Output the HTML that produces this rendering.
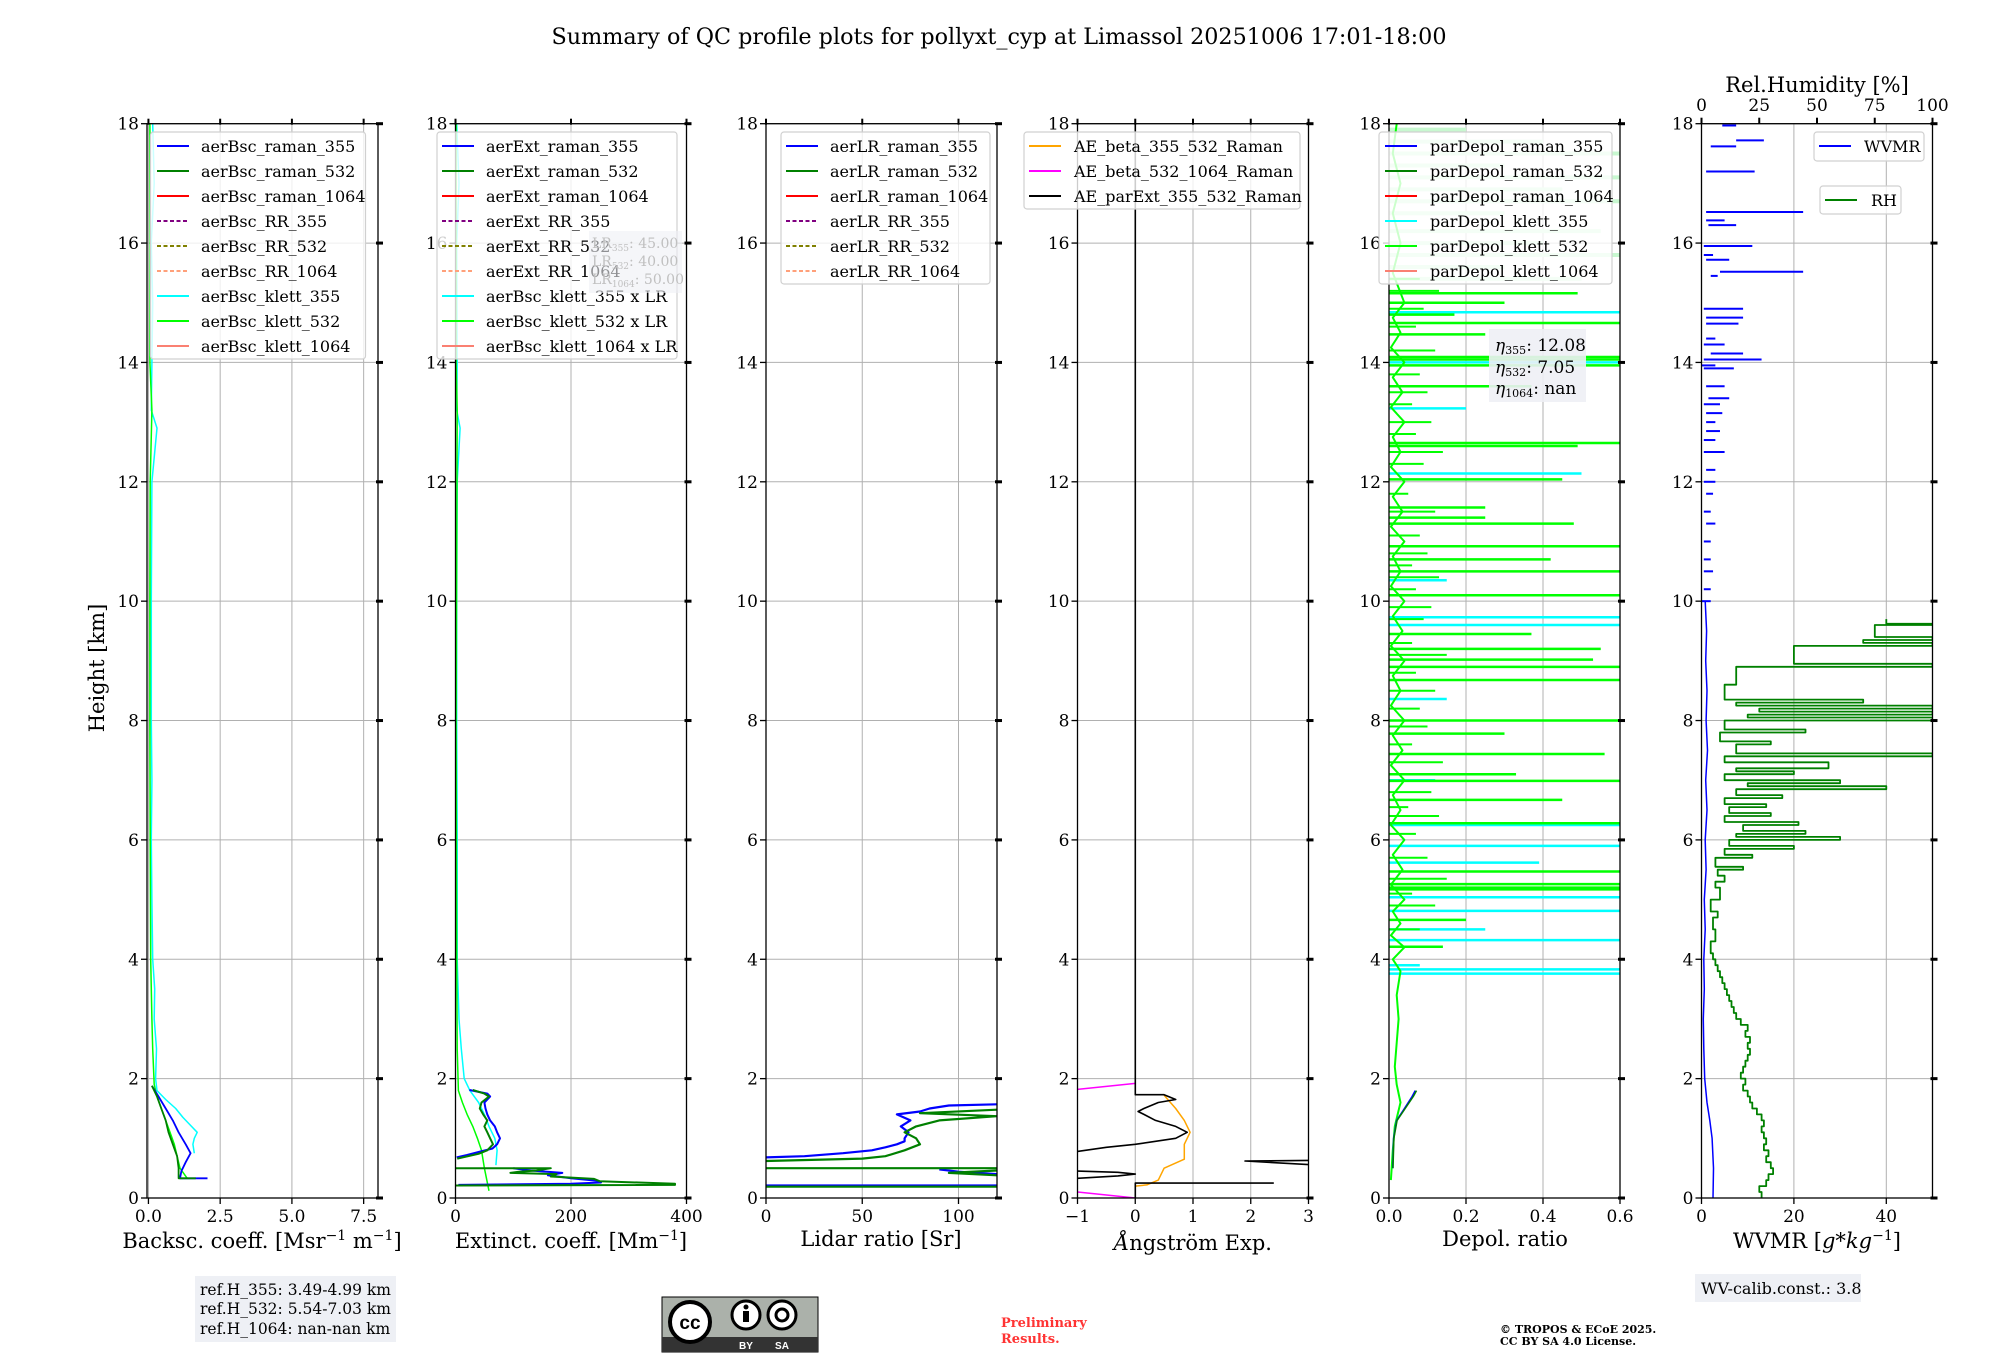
<!DOCTYPE html>
<html><head><meta charset="utf-8"><style>
html,body{margin:0;padding:0;background:#fff}
svg{display:block;font-family:"DejaVu Serif","Liberation Serif",serif}
</style></head><body>
<svg id="fig" width="2000" height="1360" viewBox="0 0 2000 1360" xmlns="http://www.w3.org/2000/svg">
<rect width="2000" height="1360" fill="#fff"/>
<text x="999" y="44" font-size="22" text-anchor="middle" textLength="895" lengthAdjust="spacingAndGlyphs">Summary of QC profile plots for pollyxt_cyp at Limassol 20251006 17:01-18:00</text>
<text transform="translate(104,668) rotate(-90)" font-size="21" text-anchor="middle">Height [km]</text>
<g id="plots"></g>
<g>
<rect x="195" y="1276" width="201" height="66" fill="#eef0f5"/>
<text x="200" y="1295" font-size="15.5">ref.H_355: 3.49-4.99 km</text>
<text x="200" y="1314" font-size="15.5">ref.H_532: 5.54-7.03 km</text>
<text x="200" y="1334" font-size="15.5">ref.H_1064: nan-nan km</text>
</g>
<g>
<rect x="662" y="1297" width="156" height="55" fill="#abb1aa" stroke="#000" stroke-width="1"/>
<rect x="662" y="1337" width="156" height="15" fill="#333"/>
<circle cx="690" cy="1322" r="20" fill="#fff" stroke="#000" stroke-width="4"/>
<text x="690" y="1329" font-size="19" font-weight="bold" text-anchor="middle" font-family="Liberation Sans, sans-serif">cc</text>
<circle cx="746" cy="1315" r="14" fill="#fff" stroke="#000" stroke-width="3"/>
<circle cx="746" cy="1307" r="2.5" fill="#000"/>
<rect x="743" y="1311" width="6" height="11" fill="#000"/>
<circle cx="782" cy="1315" r="14" fill="#fff" stroke="#000" stroke-width="3"/>
<circle cx="782" cy="1315" r="6" fill="none" stroke="#000" stroke-width="3"/>
<text x="746" y="1349" font-size="10" fill="#fff" text-anchor="middle" font-family="Liberation Sans, sans-serif" font-weight="bold">BY</text>
<text x="782" y="1349" font-size="10" fill="#fff" text-anchor="middle" font-family="Liberation Sans, sans-serif" font-weight="bold">SA</text>
</g>
<text x="1001" y="1327" font-size="13" font-weight="bold" fill="#ff3333">Preliminary</text>
<text x="1001" y="1343" font-size="13" font-weight="bold" fill="#ff3333">Results.</text>
<text x="1500" y="1333" font-size="11" font-weight="bold">© TROPOS &amp; ECoE 2025.</text>
<text x="1500" y="1345" font-size="11" font-weight="bold">CC BY SA 4.0 License.</text>
<g>
<rect x="1695" y="1274" width="166" height="28" fill="#eef0f5"/>
<text x="1701" y="1294" font-size="16">WV-calib.const.: 3.8</text>
</g>
</svg>
<script>
// ---------- DATA ----------
const yTicks = [0,2,4,6,8,10,12,14,16,18];
const bscRaman355 = [[0.33,2.06],[0.33,1.1],[0.45,1.15],[0.6,1.3],[0.75,1.47],[0.9,1.3],[1.1,1.05],[1.3,0.85],[1.5,0.6],[1.7,0.35],[1.88,0.12]];
const bscRaman532 = [[0.33,1.65],[0.33,1.05],[0.5,1.05],[0.7,1.0],[0.9,0.85],[1.1,0.7],[1.3,0.6],[1.5,0.45],[1.7,0.3],[1.88,0.12]];
const bscKlett355 = [[0.75,1.6],[0.9,1.55],[1.0,1.6],[1.1,1.7],[1.2,1.5],[1.35,1.2],[1.5,0.95],[1.65,0.6],[1.8,0.3],[2.0,0.25],[2.5,0.28],[3.0,0.2],[3.5,0.22],[4.0,0.15],[5,0.12],[6,0.1],[7,0.12],[8,0.1],[10,0.1],[12,0.12],[12.9,0.3],[13.2,0.1],[14,0.12],[15,0.15],[16,0.1],[17,0.2],[18,0.15]];
const bscKlett532 = [[0.33,1.35],[0.5,1.1],[0.7,1.0],[0.9,0.9],[1.1,0.75],[1.3,0.6],[1.5,0.45],[1.7,0.3],[1.9,0.2],[2.5,0.15],[3,0.12],[4,0.08],[6,0.06],[8,0.05],[10,0.05],[12,0.06],[13.2,0.12],[14,0.05],[16,0.06],[18,0.05]];
const extRaman355 = [[1.81,24],[1.75,55],[1.7,60],[1.6,50],[1.5,52],[1.4,55],[1.3,60],[1.2,68],[1.1,72],[1.0,77],[0.9,72],[0.83,64],[0.77,40],[0.72,20],[0.68,2],null,[0.5,100],[0.46,130],[0.42,185],[0.38,160],[0.33,200],[0.29,245],[0.26,252],[0.24,200],[0.22,5]];
const extRaman532 = [[1.81,30],[1.75,50],[1.7,58],[1.6,45],[1.5,42],[1.4,48],[1.3,55],[1.2,50],[1.1,55],[1.0,60],[0.9,65],[0.8,55],[0.74,40],[0.66,3],null,[0.5,0],[0.5,165],[0.46,140],[0.44,110],[0.42,95],[0.4,175],[0.36,165],[0.32,240],[0.28,250],[0.24,380],[0.22,380],[0.21,0]];
const extKlett355 = [[0.55,70],[0.8,72],[1.0,68],[1.2,58],[1.4,50],[1.6,40],[1.8,25],[2.0,15],[2.5,10],[3,6],[4,3],[6,3],[8,2],[10,2],[12,3],[12.9,8],[13.2,2],[14,3],[16,2],[17,6],[18,2]];
const extKlett532 = [[0.12,58],[0.5,50],[0.8,45],[1.0,38],[1.2,30],[1.4,20],[1.6,12],[1.8,5],[2.5,3],[4,2],[8,1],[13.2,3],[14,1],[18,1]];
const lrRaman355 = [[0.68,0],[0.7,20],[0.75,40],[0.8,55],[0.85,62],[0.9,68],[0.95,72],[1.0,72],[1.1,74],[1.2,70],[1.3,75],[1.4,68],[1.45,80],[1.5,85],[1.55,95],[1.57,120],null,[0.21,0],[0.21,120],null,[0.4,120],[0.44,100],[0.48,90]];
const lrRaman532 = [[0.62,0],[0.66,50],[0.7,62],[0.8,72],[0.9,80],[1.0,78],[1.1,72],[1.2,78],[1.3,90],[1.37,120],[1.42,80],[1.48,120],null,[0.5,0],[0.5,120],null,[0.19,0],[0.19,120],null,[0.38,120],[0.42,95],[0.46,120]];
const aeBeta355532 = [[0.2,0],[0.22,0.2],[0.3,0.4],[0.5,0.5],[0.65,0.85],[0.9,0.85],[1.1,0.95],[1.3,0.85],[1.5,0.7],[1.72,0.5]];
const aeBeta5321064 = [[0,0],[0.1,-1],null,[1.82,-1],[1.92,0]];
const aeParExt = [[18,0],[1.73,0],[1.73,0.5],[1.65,0.7],[1.6,0.4],[1.5,0.15],[1.45,0.05],[1.4,0.15],[1.3,0.35],[1.2,0.7],[1.1,0.9],[1.0,0.7],[0.9,0],[0.85,-0.5],[0.78,-1],null,[0.45,-1],[0.43,-0.3],[0.4,0],[0.37,-0.3],[0.33,-1],null,[0,0],[0.25,0],[0.25,2.4],null,[0.63,3],[0.62,1.9],[0.56,3]];
const depolRaman = [[0.5,0.01],[1.0,0.012],[1.3,0.02],[1.5,0.04],[1.7,0.06],[1.8,0.068]];
const depolKlett532Base = [[0.3,0.005],[0.8,0.01],[1.2,0.015],[1.6,0.03],[1.9,0.02],[2.2,0.015],[2.6,0.02],[3.0,0.025],[3.4,0.02],[3.8,0.03],[4.0,0.01],[4.2,0.04],[4.4,0.005],[4.6,0.03],[4.8,0.01],[5.0,0.04],[5.25,0.005],[5.5,0.035],[5.75,0.01],[6.0,0.04],[6.25,0.005],[6.5,0.03],[6.75,0.01],[7,0.04],[7.25,0.005],[7.5,0.035],[7.75,0.01],[8,0.04],[8.25,0.005],[8.5,0.03],[8.75,0.01],[9,0.04],[9.25,0.005],[9.5,0.035],[9.75,0.01],[10,0.04],[10.25,0.005],[10.5,0.03],[10.75,0.01],[11,0.04],[11.25,0.005],[11.5,0.035],[11.75,0.01],[12,0.04],[12.25,0.005],[12.5,0.03],[12.75,0.01],[13,0.04],[13.25,0.005],[13.5,0.035],[13.75,0.01],[14,0.04],[14.25,0.005],[14.5,0.03],[14.75,0.01],[15,0.04],[15.5,0.01],[16,0.03],[16.5,0.01],[17,0.03],[17.5,0.01],[18,0.02]];
const depolShortH = [4.5,4.9,5.1,5.35,5.7,6.1,6.4,6.55,6.8,7.1,7.3,7.6,7.9,8.2,8.5,8.8,9.1,9.3,9.7,9.9,10.2,10.4,10.6,10.8,11.1,11.5,11.8,12.3,12.5,12.8,13.0,13.3,13.5,13.8,14.2,14.6,14.9,15.2,15.4];
const depolShortV = [0.08,0.12,0.06,0.15,0.1,0.07,0.13,0.05,0.11,0.09,0.14,0.06,0.1,0.08,0.12,0.07,0.15,0.06,0.09,0.11,0.07,0.13,0.06,0.1,0.08,0.12,0.05,0.09,0.14,0.07,0.11,0.06,0.1,0.08,0.12,0.07,0.09,0.13,0.08];
const depolLimeSpikes = [[15.16,0.49],[14.66,0.6],[14.47,0.25],[14.09,0.6],[13.6,0.37],[12.65,0.6],[12.6,0.49],[12.04,0.45],[11.57,0.25],[11.4,0.25],[11.3,0.48],[10.92,0.6],[10.7,0.42],[10.5,0.6],[10.1,0.6],[9.45,0.37],[9.2,0.55],[9.02,0.53],[8.9,0.6],[8.68,0.6],[8.0,0.6],[7.78,0.3],[7.44,0.56],[7.1,0.33],[6.99,0.6],[6.67,0.45],[6.28,0.6],[5.47,0.6],[5.26,0.6],[5.2,0.6],[5.17,0.6],[4.66,0.2],[4.21,0.14],[14.05,0.6],[13.95,0.6],[15.0,0.3],[14.8,0.17]];
const depolCyanSpikes = [[14.84,0.6],[14.0,0.6],[13.23,0.2],[12.14,0.5],[10.35,0.15],[9.73,0.6],[9.6,0.6],[8.36,0.15],[6.25,0.6],[5.9,0.6],[5.62,0.39],[5.04,0.6],[4.81,0.6],[4.32,0.6],[3.83,0.6],[3.76,0.6],[4.5,0.25],[3.9,0.08],[7.0,0.12]];
const depolPaleSpikes = [[15.4,0.5],[15.6,0.3],[15.8,0.6],[16.0,0.4],[16.2,0.55],[16.5,0.3],[16.7,0.6],[16.9,0.45],[17.1,0.6],[17.3,0.3],[17.5,0.6],[17.7,0.4],[17.9,0.2]];
const wvmrLow = [[0,2.5],[0.5,2.6],[1.0,2.3],[1.3,1.8],[1.6,1.2],[2.0,0.7],[2.5,0.5],[3.0,0.4],[3.5,0.6],[4.0,0.5],[4.5,0.8],[5,0.6],[5.5,1.0],[6,0.8],[6.5,1.2],[7,0.9],[7.5,1.3],[8,1.0],[8.5,1.2],[9,0.9],[9.5,1.1],[10,0.8]];
const wvmrSegments = [[17.97,4.5,7.5],[17.72,7.5,13.5],[17.62,2,7.5],[17.2,1,11.5],[16.52,1,22],[16.38,1,5],[16.3,1.5,7.5],[15.95,0.5,11],[15.8,0.5,2.5],[15.72,1,6],[15.52,4,22],[15.45,2,3.5],[14.9,0.5,9],[14.75,1,9],[14.65,1,8],[14.4,1,3],[14.3,0.5,5],[14.15,2,9],[14.05,0.5,13],[13.95,0,3],[13.9,0.5,7],[13.6,1,5],[13.4,1.5,6],[13.3,0.5,4],[13.15,1,4.5],[13.0,1,3],[12.85,1,4],[12.7,0.5,3],[12.5,0.5,5],[12.2,1,3],[12.0,0.5,3],[11.8,1,2.5],[11.5,0.5,2],[11.3,1,3],[11.0,0.5,2],[10.7,0.5,2],[10.5,0.5,2.5],[10.2,0.5,2],[10.0,0,2]];
const rhProfile = [[0,26],[0.1,25],[0.2,28],[0.3,29],[0.4,31],[0.5,30],[0.6,28],[0.7,29],[0.8,27],[0.9,28],[1.0,27],[1.1,26],[1.2,27],[1.3,26],[1.4,24],[1.5,22],[1.6,21],[1.7,20],[1.8,18],[1.9,19],[2.0,17],[2.1,18],[2.2,19],[2.3,20],[2.4,21],[2.5,20],[2.6,21],[2.7,19],[2.8,20],[2.9,17],[3.0,15],[3.1,14],[3.2,13],[3.3,12],[3.4,11],[3.5,10],[3.6,9],[3.7,8],[3.8,7],[3.9,6],[4.0,5],[4.1,4],[4.3,6],[4.5,5],[4.7,7],[4.8,4],[5.0,8],[5.2,6],[5.3,10],[5.4,7],[5.5,18],[5.55,6],[5.7,22],[5.75,10],[5.85,40],[5.9,12],[6.0,60],[6.05,15],[6.1,45],[6.15,18],[6.25,42],[6.3,10],[6.4,30],[6.45,12],[6.55,28],[6.6,10],[6.7,35],[6.75,15],[6.85,80],[6.9,20],[6.95,60],[7.0,10],[7.1,40],[7.15,15],[7.2,55],[7.3,10],[7.4,100],[7.45,15],[7.6,30],[7.65,8],[7.8,45],[7.85,10],[8.0,100],[8.05,20],[8.1,100],[8.15,25],[8.2,100],[8.25,15],[8.3,70],[8.35,10],[8.6,15],[8.9,100],[8.95,40],[9.25,100],[9.3,70],[9.35,100],[9.4,75],[9.6,100],[9.62,80],[9.7,80]];
const p1Ticks = ["0.0","2.5","5.0","7.5"], p2Ticks=["0","200","400"], p3Ticks=["0","50","100"], p4Ticks=["\u22121","0","1","2","3"], p5Ticks=["0.0","0.2","0.4","0.6"], p6Ticks=["0","20","40"], rhTicks=["0","25","50","75","100"];

// ---------- RENDER ----------
const NS="http://www.w3.org/2000/svg";
const root=document.getElementById('plots');
const TOP=123.7, BOT=1198, W=231;
const Y=h=>BOT-(h/18)*(BOT-TOP);
function el(tag,attrs,parent){const e=document.createElementNS(NS,tag);for(const k in attrs)e.setAttribute(k,attrs[k]);(parent||root).appendChild(e);return e;}
const panels=[
 {L:147,x0:-0.05,x1:8,ticks:p1Ticks,name:'backscatter'},
 {L:455.5,x0:0,x1:400,ticks:p2Ticks,name:'extinction'},
 {L:766,x0:0,x1:120,ticks:p3Ticks,name:'lidar-ratio'},
 {L:1077.5,x0:-1,x1:3,ticks:p4Ticks,name:'angstrom'},
 {L:1389,x0:0,x1:0.6,ticks:p5Ticks,name:'depol'},
 {L:1701.5,x0:0,x1:50,ticks:p6Ticks,name:'wvmr'}];
const X=(p,v)=>p.L+(v-p.x0)/(p.x1-p.x0)*W;
const tnum=s=>parseFloat(s.replace('\u2212','-'));
function pathD(p,pts,xscale,step){let d='',pen=false,px=0;for(const q of pts){if(!q){pen=false;continue;}const x=xscale?xscale(q[1]):X(p,q[1]);const y=Y(q[0]);if(pen&&step){d+='L'+px.toFixed(1)+' '+y.toFixed(1);}d+=(pen?'L':'M')+x.toFixed(1)+' '+y.toFixed(1);px=x;pen=true;}return d;}

panels.forEach((p,i)=>{
  const g=el('g',{});
  
  
  p.g=g;
  const cp=el('clipPath',{id:'cp'+i},g);el('rect',{x:p.L,y:TOP,width:W,height:BOT-TOP},cp);
  yTicks.forEach(h=>{const l=el('line',{x1:p.L,x2:p.L+W,y1:Y(h),y2:Y(h),stroke:'#b0b0b0','stroke-width':1},g);});
  p.ticks.forEach(t=>{const x=X(p,tnum(t));const l=el('line',{x1:x,x2:x,y1:TOP,y2:BOT,stroke:'#b0b0b0','stroke-width':1},g);});
  p.data=el('g',{'clip-path':'url(#cp'+i+')'},g);
});
function line(p,pts,color,w,name,xs,step){const e=el('path',{d:pathD(p,pts,xs,step),fill:'none',stroke:color,'stroke-width':w||1.5,'stroke-linejoin':'round'},p.data);return e;}
function hseg(p,h,a,b,color,w,name,xs){const f=xs||(v=>X(p,v));const e=el('line',{x1:f(a),x2:f(b),y1:Y(h),y2:Y(h),stroke:color,'stroke-width':w},p.data);}

const P=panels;
line(P[0],bscKlett355,'#00ffff',1.5,'bsc-klett-355');
line(P[0],bscKlett532,'#00ff00',1.5,'bsc-klett-532');
line(P[0],bscRaman355,'#0000ff',1.8,'bsc-raman-355');
line(P[0],bscRaman532,'#008000',1.8,'bsc-raman-532');
line(P[1],extKlett355,'#00ffff',1.5,'ext-klett-355');
line(P[1],extKlett532,'#00ff00',1.5,'ext-klett-532');
line(P[1],extRaman355,'#0000ff',2,'ext-raman-355');
line(P[1],extRaman532,'#008000',2,'ext-raman-532');
line(P[2],lrRaman355,'#0000ff',2.2,'lr-raman-355');
line(P[2],lrRaman532,'#008000',2.2,'lr-raman-532');
line(P[3],aeBeta355532,'#ffa500',1.5,'ae-beta-355-532');
line(P[3],aeBeta5321064,'#ff00ff',1.5,'ae-beta-532-1064');
line(P[3],aeParExt,'#000000',1.6,'ae-parext-355-532');
depolPaleSpikes.forEach(s=>hseg(P[4],s[0],0,s[1],'#c8f8d0',4,'depol-pale-spike'));
depolCyanSpikes.forEach(s=>hseg(P[4],s[0],0,s[1],'#00ffff',2.5,'depol-klett-355-spike'));
depolLimeSpikes.forEach(s=>hseg(P[4],s[0],0,s[1],'#00ff00',2.5,'depol-klett-532-spike'));
depolShortH.forEach((h,k)=>hseg(P[4],h,0,depolShortV[k],'#00ff00',2,'depol-short-spike'));
line(P[4],depolKlett532Base,'#00ff00',2,'depol-klett-532');
line(P[4],depolRaman,'#0000ff',1.5,'depol-raman-355');
line(P[4],depolRaman.map(q=>[q[0],q[1]*1.05]),'#008000',1.5,'depol-raman-532');
line(P[5],wvmrLow,'#0000ff',1.5,'wvmr-profile');
wvmrSegments.forEach(s=>hseg(P[5],s[0],s[1],s[2],'#0000ff',2,'wvmr-segment'));
const RHX=v=>P[5].L+v/100*W;
line(P[5],rhProfile,'#008000',1.8,'rh-profile',RHX,true);

panels.forEach((p,i)=>{
  const g=p.g,R=p.L+W;
  el('rect',{x:p.L,y:TOP,width:W,height:BOT-TOP,fill:'none',stroke:'#000','stroke-width':1.3},g);
  yTicks.forEach(h=>{
    el('line',{x1:p.L-6,x2:p.L,y1:Y(h),y2:Y(h),stroke:'#000','stroke-width':1.3},g);
    el('line',{x1:R-2,x2:R+5,y1:Y(h),y2:Y(h),stroke:'#000','stroke-width':3},g);
    const t=el('text',{x:p.L-8,y:Y(h)+6,'font-size':17,'text-anchor':'end'},g);t.textContent=h;
    
  });
  p.ticks.forEach(s=>{const x=X(p,tnum(s));
    el('line',{x1:x,x2:x,y1:BOT,y2:BOT+6,stroke:'#000','stroke-width':1.3},g);
    if(i<5) el('line',{x1:x,x2:x,y1:TOP-5,y2:TOP+1,stroke:'#000','stroke-width':2},g);
    const t=el('text',{x:x,y:BOT+24,'font-size':17,'text-anchor':'middle'},g);t.textContent=s;
    });
});
rhTicks.forEach(s=>{const x=RHX(+s);el('line',{x1:x,x2:x,y1:TOP-6,y2:TOP,stroke:'#000','stroke-width':2});const t=el('text',{x:x,y:111,'font-size':17,'text-anchor':'middle'});t.textContent=s;});
const rht=el('text',{x:1817,y:92,'font-size':21,'text-anchor':'middle'});rht.textContent='Rel.Humidity [%]';

function xtitle(x,y,html,name){const t=el('text',{x:x,y:y,'font-size':21,'text-anchor':'middle'});t.innerHTML=html;}
xtitle(262,1248,'Backsc. coeff. [Msr<tspan dy="-8" font-size="14">\u22121</tspan><tspan dy="8"> m</tspan><tspan dy="-8" font-size="14">\u22121</tspan><tspan dy="8">]</tspan>','backscatter-x-title');
xtitle(571,1248,'Extinct. coeff. [Mm<tspan dy="-8" font-size="14">\u22121</tspan><tspan dy="8">]</tspan>','extinction-x-title');
xtitle(881,1246,'Lidar ratio [Sr]','lidar-ratio-x-title');
xtitle(1193,1250,'<tspan font-style="italic">\u00c5</tspan>ngstr\u00f6m Exp.','angstrom-x-title');
xtitle(1505,1246,'Depol. ratio','depol-x-title');
xtitle(1817,1248,'WVMR [<tspan font-style="italic">g*kg</tspan><tspan dy="-8" font-size="14">\u22121</tspan><tspan dy="8">]</tspan>','wvmr-x-title');

function legend(x,y,w,h,entries,lx,tx,name){
  const g=el('g',{});
  el('rect',{x:x,y:y,width:w,height:h,rx:3,fill:'#fff','fill-opacity':0.8,stroke:'#d0d0d0','stroke-width':1.2},g);
  entries.forEach((e,k)=>{const cy=y+14+k*25;
    const l=el('line',{x1:lx,x2:lx+32,y1:cy,y2:cy,stroke:e[1],'stroke-width':2},g);if(e[2])l.setAttribute('stroke-dasharray','4 2.5');
    const t=el('text',{x:tx,y:cy+6,'font-size':16},g);t.textContent=e[0];
    });
}
const C=['#0000ff','#008000','#ff0000','#800080','#808000','#ffa07a','#00ffff','#00ff00','#fa8072'];
legend(150.5,132,215,227,[['aerBsc_raman_355',C[0]],['aerBsc_raman_532',C[1]],['aerBsc_raman_1064',C[2]],['aerBsc_RR_355',C[3],1],['aerBsc_RR_532',C[4],1],['aerBsc_RR_1064',C[5],1],['aerBsc_klett_355',C[6]],['aerBsc_klett_532',C[7]],['aerBsc_klett_1064',C[8]]],157,201,'backscatter-legend');
legend(437,132,240,227,[['aerExt_raman_355',C[0]],['aerExt_raman_532',C[1]],['aerExt_raman_1064',C[2]],['aerExt_RR_355',C[3],1],['aerExt_RR_532',C[4],1],['aerExt_RR_1064',C[5],1],['aerBsc_klett_355 x LR',C[6]],['aerBsc_klett_532 x LR',C[7]],['aerBsc_klett_1064 x LR',C[8]]],442,486,'extinction-legend');
legend(781,132,209,152,[['aerLR_raman_355',C[0]],['aerLR_raman_532',C[1]],['aerLR_raman_1064',C[2]],['aerLR_RR_355',C[3],1],['aerLR_RR_532',C[4],1],['aerLR_RR_1064',C[5],1]],786,830,'lidar-ratio-legend');
legend(1024,132,276,77,[['AE_beta_355_532_Raman','#ffa500'],['AE_beta_532_1064_Raman','#ff00ff'],['AE_parExt_355_532_Raman','#000000']],1029,1074,'angstrom-legend');
legend(1379,132,233,152,[['parDepol_raman_355',C[0]],['parDepol_raman_532',C[1]],['parDepol_raman_1064',C[2]],['parDepol_klett_355',C[6]],['parDepol_klett_532',C[7]],['parDepol_klett_1064',C[8]]],1385,1430,'depol-legend');
legend(1814,132,110,29,[['WVMR',C[0]]],1819,1864,'wvmr-legend');
legend(1820,186,81,28,[['RH',C[1]]],1825,1871,'rh-legend');

const lrb=el('g',{});
el('rect',{x:589,y:231,width:93,height:62,fill:'#eef0f5','fill-opacity':0.6},lrb);
[['355','45.00',248],['532','40.00',266],['1064','50.00',284]].forEach(r=>{const t=el('text',{x:592,y:r[2],'font-size':14,fill:'#c0c0c0'},lrb);t.innerHTML='LR<tspan font-size="9" dy="3">'+r[0]+'</tspan><tspan dy="-3">: '+r[1]+'</tspan>';});
const eb=el('g',{});
el('rect',{x:1489,y:329,width:97,height:73,fill:'#eef0f5','fill-opacity':0.9},eb);
[['355','12.08',351],['532','7.05',373],['1064','nan',394]].forEach(r=>{const t=el('text',{x:1495,y:r[2],'font-size':17},eb);t.innerHTML='<tspan font-style="italic">\u03b7</tspan><tspan font-size="11" dy="3">'+r[0]+'</tspan><tspan dy="-3">: '+r[1]+'</tspan>';});
</script>
</body></html>
